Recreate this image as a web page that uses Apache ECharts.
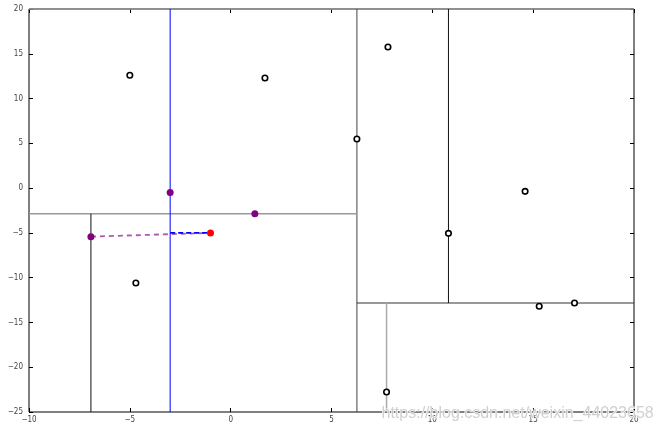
<!DOCTYPE html>
<html><head><meta charset="utf-8">
<script src="https://cdn.jsdelivr.net/npm/echarts@6/dist/echarts.min.js"></script>
<style>html,body{margin:0;padding:0;background:#fff}#c{width:660px;height:434px}</style>
</head><body><div id="c"></div>
<script>
// ---- data ----
const xTickLabels = ['\u221210', '\u22125', '0', '5', '10', '15', '20'];
const yTickLabels = ['\u221225', '\u221220', '\u221215', '\u221210', '\u22125', '0', '5', '10', '15', '20'];
const dataPoints = [[-5.0, 12.6], [-4.7, -10.6], [1.7, 12.3], [6.26, 5.48], [7.8, 15.76],
                    [10.8, -5.05], [14.6, -0.36], [15.3, -13.2], [17.05, -12.83], [7.73, -22.77]];
const nearPoints = [[-3.0, -0.5], [1.2, -2.86], [-6.93, -5.42]];
const queryPoint = [[-1.0, -5.0]];
// split segments: [x1, y1, x2, y2]
const splitRoot = [6.26, -25, 6.26, 20];
const splitLeft = [-10, -2.86, 6.26, -2.86];
const splitLeftBottom = [-6.93, -25, -6.93, -2.86];
const splitSearch = [-3.0, -25, -3.0, 20];
const splitRight = [6.26, -12.83, 20, -12.83];
const splitRightTop = [10.8, -12.83, 10.8, 20];
const splitRightBottom = [7.73, -25, 7.73, -12.83];
const splitTop = [-10, 20, 20, 20];
const pathToNearest = [[-6.93, -5.42], [-1.0, -5.0]];
const pathToPlane = [[-3.0, -5.0], [-1.0, -5.0]];

// ---- chart ----
const chart = echarts.init(document.getElementById('c'));
const font = "'Liberation Sans Narrow','DejaVu Sans Condensed',sans-serif";
function seg(s, color, w, z) {
  return { type: 'line', data: [[s[0], s[1]], [s[2], s[3]]], showSymbol: false, symbol: 'none',
    lineStyle: { color: color, width: w || 1 }, z: z || 2, silent: true, animation: false };
}
const tickStyle = { show: true, inside: true, length: 4, lineStyle: { color: '#000', width: 1 } };
const noLine = { show: false, onZero: false };
chart.setOption({
  animation: false,
  backgroundColor: '#fff',
  grid: { left: 29, right: 26, top: 9, bottom: 22, show: true, borderColor: '#000', borderWidth: 1 },
  xAxis: [
    { type: 'value', min: -10, max: 20, interval: 5, position: 'bottom',
      axisLine: noLine, axisTick: tickStyle, splitLine: { show: false },
      axisLabel: { fontSize: 8, color: '#444', fontFamily: font, margin: 4,
        formatter: (v, i) => xTickLabels[i] } },
    { type: 'value', min: -10, max: 20, interval: 5, position: 'top',
      axisLine: noLine, axisTick: tickStyle, splitLine: { show: false }, axisLabel: { show: false } }
  ],
  yAxis: [
    { type: 'value', min: -25, max: 20, interval: 5, position: 'left',
      axisLine: noLine, axisTick: tickStyle, splitLine: { show: false },
      axisLabel: { fontSize: 8, color: '#444', fontFamily: font, margin: 6,
        formatter: (v, i) => yTickLabels[i] } },
    { type: 'value', min: -25, max: 20, interval: 5, position: 'right',
      axisLine: noLine, axisTick: tickStyle, splitLine: { show: false }, axisLabel: { show: false } }
  ],
  graphic: [{
    type: 'text', left: 381, top: 405, z: 100, silent: true,
    style: { text: 'https://blog.csdn.net/weixin_44023658', fontSize: 16, fontFamily: "'Liberation Sans','DejaVu Sans',sans-serif",
      fill: 'rgba(200,200,200,0.85)', stroke: '#fff', lineWidth: 1 }
  }],
  series: [
    seg(splitTop, '#999', 1.5),
    seg(splitRoot, '#444'),
    seg(splitLeft, '#999', 1.5),
    seg(splitLeftBottom, '#111'),
    seg(splitRight, '#333'),
    seg(splitRightTop, '#111'),
    seg(splitRightBottom, '#aaa', 1.5),
    seg(splitSearch, '#0000ff', 1, 3),
    { type: 'line', data: pathToNearest, showSymbol: false, symbol: 'none', z: 4,
      lineStyle: { color: 'rgba(128,0,128,0.65)', width: 1.8, type: [5, 4] } },
    { type: 'line', data: pathToPlane, showSymbol: false, symbol: 'none', z: 5,
      lineStyle: { color: '#0000ff', width: 1.8, type: [5, 3] } },
    { type: 'scatter', data: dataPoints, symbol: 'circle', symbolSize: 5.5, z: 6,
      itemStyle: { color: '#fff', borderColor: '#000', borderWidth: 1.6, opacity: 1 } },
    { type: 'scatter', data: nearPoints, symbol: 'circle', symbolSize: 7, z: 7,
      itemStyle: { color: '#800080', opacity: 1 } },
    { type: 'scatter', data: queryPoint, symbol: 'circle', symbolSize: 7, z: 7,
      itemStyle: { color: '#ff0000', opacity: 1 } }
  ]
});
</script></body></html>
